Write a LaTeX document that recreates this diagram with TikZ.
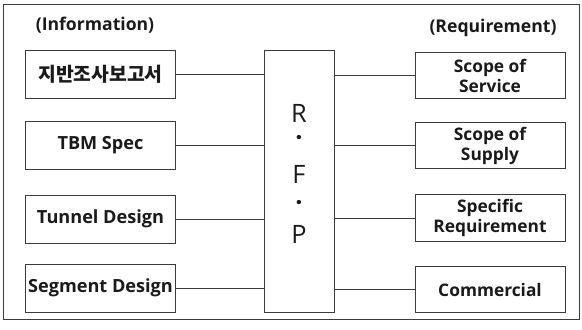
\documentclass[tikz,border=0pt]{standalone}
\usepackage{fontspec}
\setmainfont{Open Sans}
\newfontfamily\korfont{Noto Sans CJK KR}
\usepackage{xcolor}
\definecolor{rfpline}{HTML}{3A3A3A}
\definecolor{rfptext}{HTML}{1A1A1A}
\usepackage{tikz}
\usetikzlibrary{positioning,calc}
\tikzset{
  infobox/.style={
    draw=rfpline, line width=0.6pt, fill=white,
    minimum width=113pt, minimum height=36pt,
    align=center, font=\fontsize{13.6}{15}\selectfont\bfseries\color{rfptext}, inner sep=1pt
  },
  reqbox/.style={
    draw=rfpline, line width=0.6pt, fill=white,
    minimum width=112.5pt, minimum height=35pt,
    align=center, font=\fontsize{13}{15}\selectfont\bfseries\color{rfptext}, inner sep=1pt
  },
  rfpletter/.style={font=\fontsize{19}{19}\selectfont\color{rfptext}, inner sep=0pt},
  grouptitle/.style={font=\fontsize{13.2}{15}\selectfont\bfseries\color{rfptext}, inner sep=0pt},
  link/.style={draw=rfpline, line width=0.6pt}
}

\begin{document}
\begin{tikzpicture}[x=0.75pt, y=-0.75pt]

  \useasboundingbox (0,0) rectangle (582,329);
  \draw[rfpline, line width=0.7pt] (3,4) rectangle (579,319);

  %% ---- titles ----
  \node[grouptitle] (info_t) at (95,25) {(Information)};
  \node[grouptitle] (req_t) at (493,28) {(Requirement)};

  %% ---- R.F.P ----
  \node[draw=rfpline, line width=0.6pt, minimum width=53pt, minimum height=196.5pt,
        inner sep=0pt] (rfp) at (299.5,181) {};
  \node[rfpletter] (rfp_r) at (299,113) {R};
  \node[rfpletter] (rfp_d1) at (299,141) {\bfseries ·};
  \node[rfpletter] (rfp_f) at (299,174) {F};
  \node[rfpletter] (rfp_d2) at (299,206) {\bfseries ·};
  \node[rfpletter] (rfp_p) at (299,234) {P};

  %% ---- Information ----
  \node[infobox] (in_a) at (100.5,74) {\korfont\fontsize{14.5}{15}\selectfont 지반조사보고서};
  \node[infobox] (in_b) at (100.5,145) {TBM Spec};
  \node[infobox] (in_c) at (100.5,219) {Tunnel Design};
  \node[infobox] (in_d) at (100.5,288) {Segment Design};

  %% ---- Requirement ----
  \node[reqbox] (rq_a) at (490,75.5) {Scope of\\Service};
  \node[reqbox] (rq_b) at (490,145.5) {Scope of\\Supply};
  \node[reqbox] (rq_c) at (490,218) {Specific\\Requirement};
  \node[reqbox] (rq_d) at (490,289.5) {Commercial};

  %% Links
  \foreach \n in {in_a,in_b,in_c,in_d}
    \draw[link] (\n.east) -- (\n.east -| rfp.west);
  \foreach \n in {rq_a,rq_b,rq_c,rq_d}
    \draw[link] (\n.west) -- (\n.west -| rfp.east);

\end{tikzpicture}
\end{document}
